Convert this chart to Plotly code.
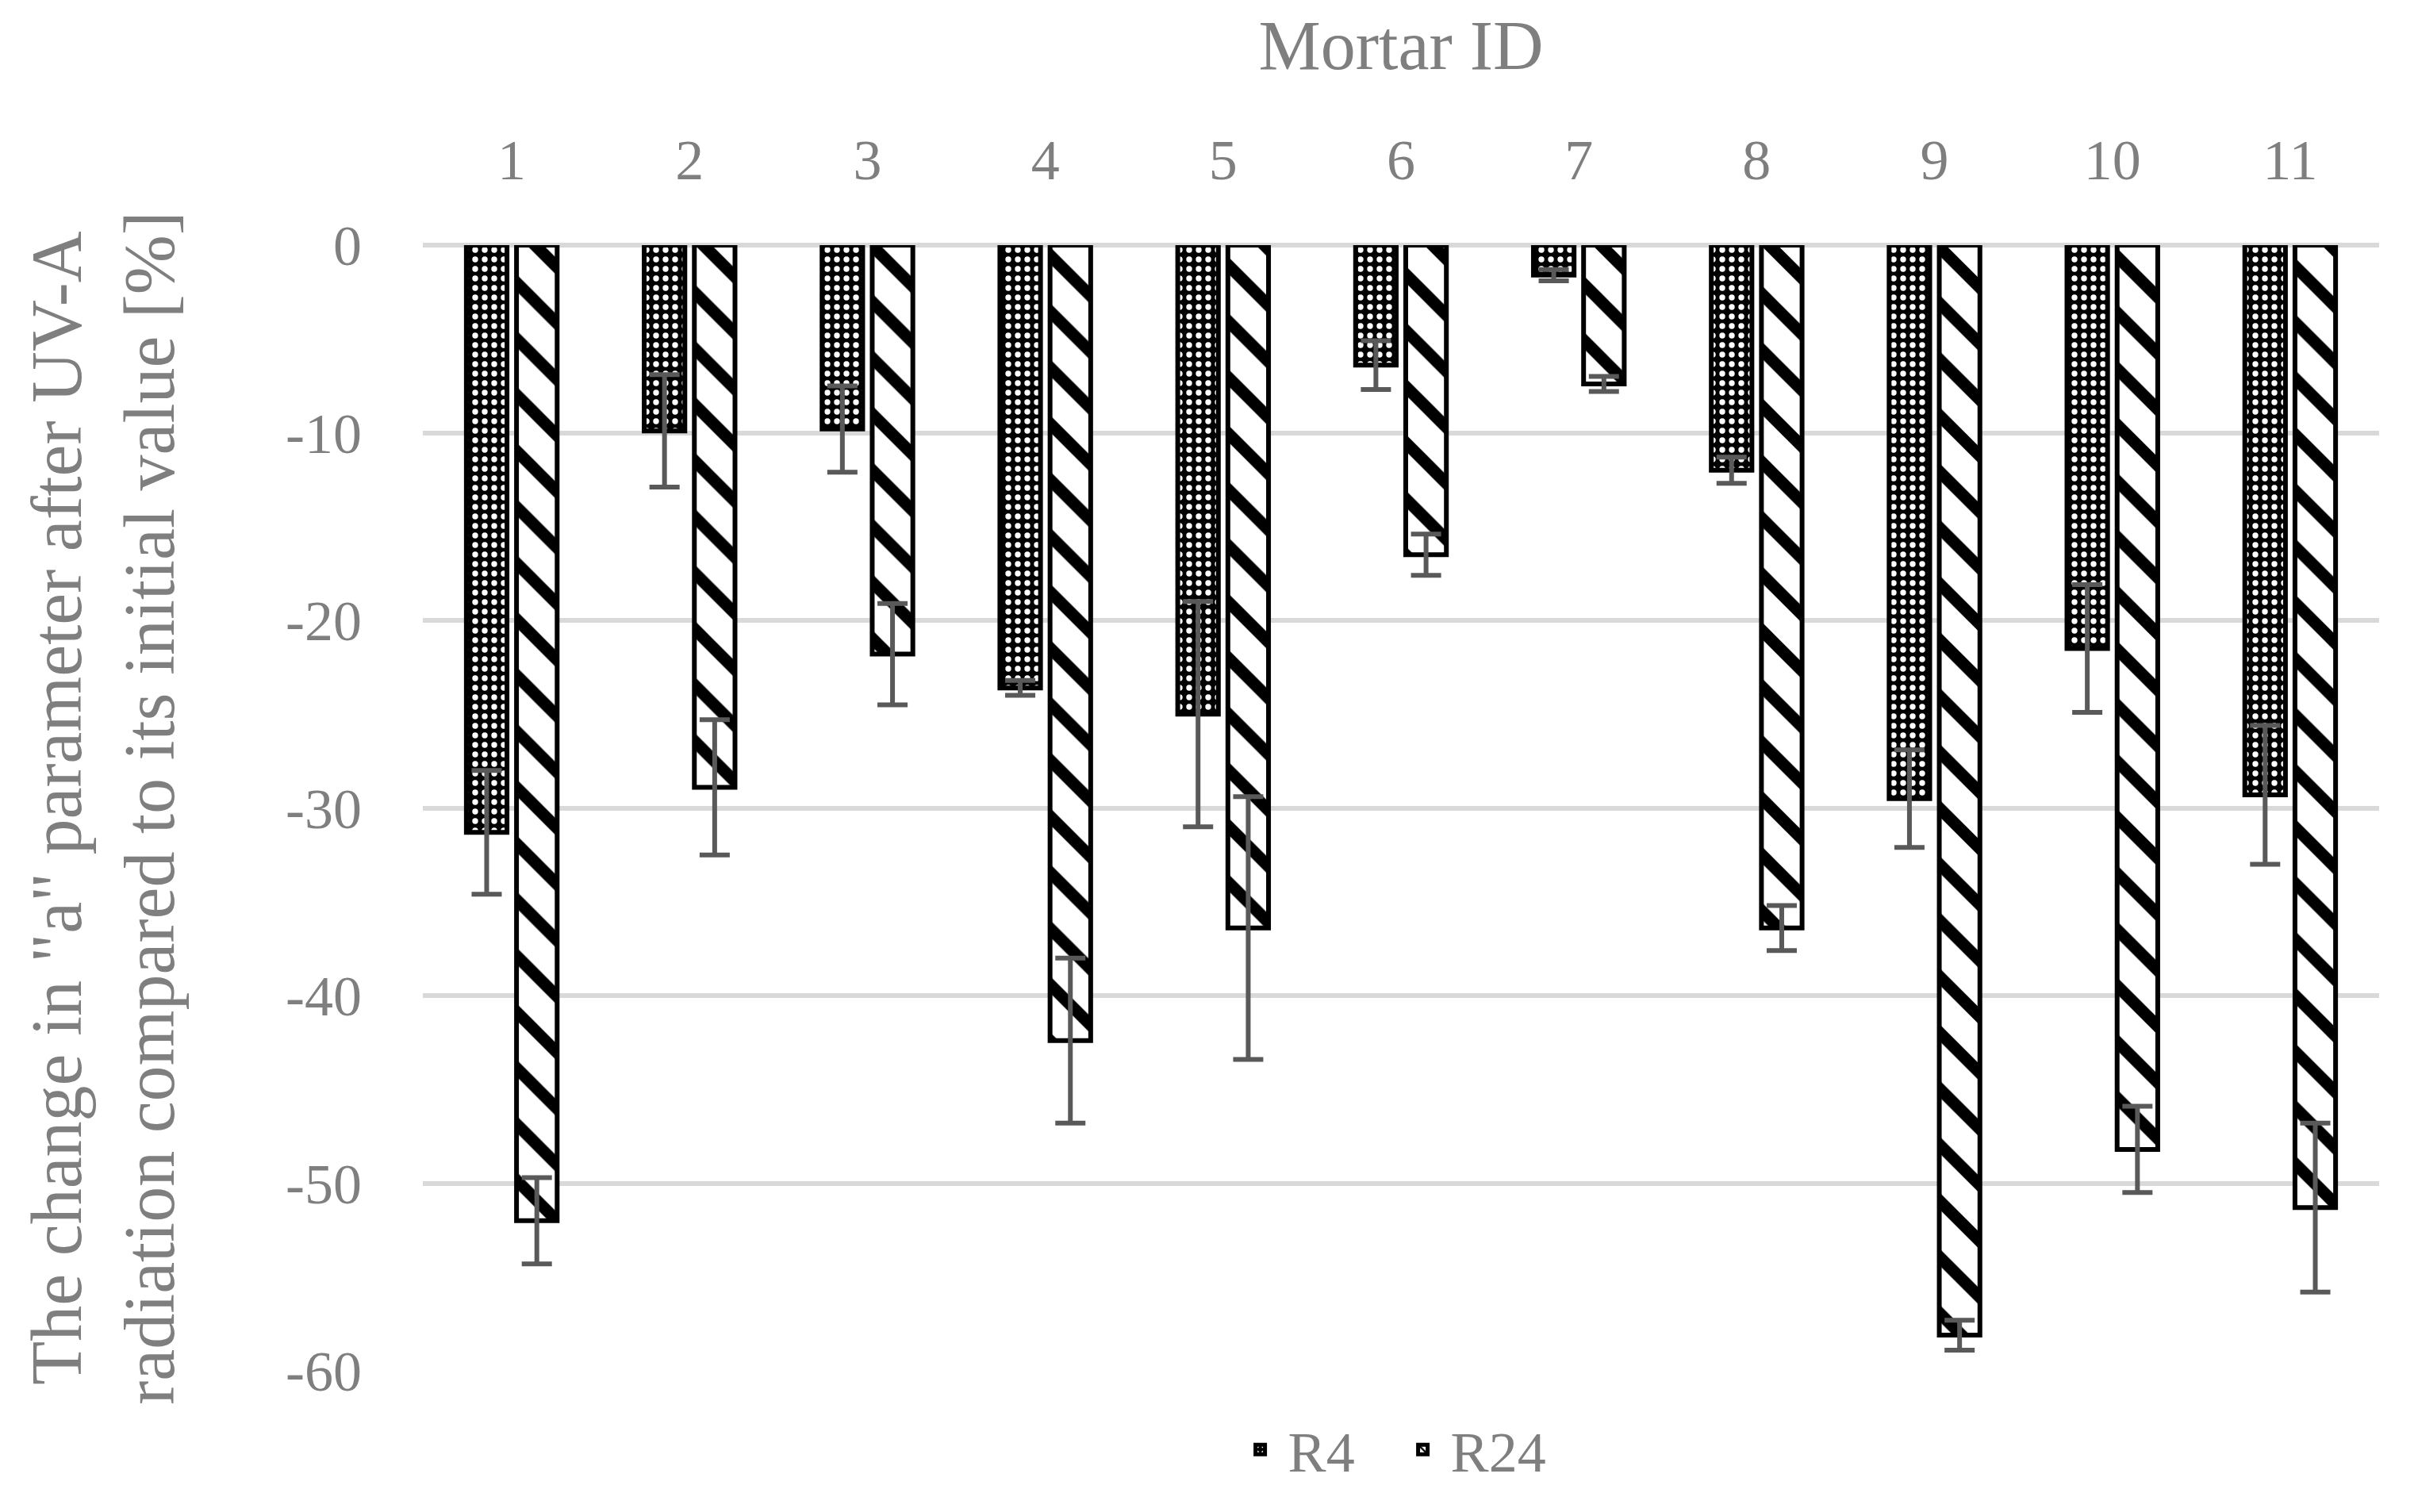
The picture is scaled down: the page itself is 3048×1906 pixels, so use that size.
import plotly.graph_objects as go

categories = ["1", "2", "3", "4", "5", "6", "7", "8", "9", "10", "11"]
r4_values = [-31.3, -9.9, -9.8, -23.6, -25.0, -6.4, -1.6, -12.0, -29.5, -21.5, -29.3]
r4_errors = [3.3, 3.0, 2.3, 0.4, 6.0, 1.3, 0.3, 0.7, 2.6, 3.4, 3.7]
r24_values = [-52.0, -28.9, -21.8, -42.4, -36.4, -16.5, -7.4, -36.4, -58.1, -48.2, -51.3]
r24_errors = [2.3, 3.6, 2.7, 4.4, 7.0, 1.1, 0.4, 1.2, 0.8, 2.3, 4.5]
y_tickvals = [0, -10, -20, -30, -40, -50, -60]
y_ticktext = ["0", "-10", "-20", "-30", "-40", "-50", "-60"]

FONT = "Liberation Serif"
GRAY = "#7f7f7f"

fig = go.Figure()
fig.add_trace(go.Bar(
    name="R4", x=categories, y=r4_values,
    marker=dict(
        color="black",
        line=dict(color="black", width=6),
        pattern=dict(shape=".", fgcolor="white", bgcolor="black", size=12, solidity=0.3, fillmode="replace"),
    ),
    error_y=dict(type="data", array=r4_errors, symmetric=True, color="#595959", thickness=6, width=19),
))
fig.add_trace(go.Bar(
    name="R24", x=categories, y=r24_values,
    marker=dict(
        color="white",
        line=dict(color="black", width=6),
        pattern=dict(shape="\\", fgcolor="black", bgcolor="white", size=50, solidity=0.3, fillmode="replace"),
    ),
    error_y=dict(type="data", array=r24_errors, symmetric=True, color="#595959", thickness=6, width=19),
))

fig.update_layout(
    width=3040, height=1898,
    paper_bgcolor="white", plot_bgcolor="white",
    margin=dict(l=525, r=49, t=301, b=178, autoexpand=False),
    barmode="group", bargap=0.436, bargroupgap=0.19,
    font=dict(family=FONT, color=GRAY, size=72),
    showlegend=True,
    legend=dict(orientation="h", x=0.497, xanchor="center", y=-0.070, yanchor="middle",
                itemwidth=60, entrywidth=130,
                font=dict(size=72, color=GRAY, family=FONT)),
    xaxis=dict(
        side="top", type="category", showgrid=False, showline=False, ticks="",
        tickfont=dict(size=72, color=GRAY, family=FONT),
        ticklabelstandoff=68,
        title=dict(text="Mortar ID", font=dict(size=88, color=GRAY, family=FONT), standoff=44),
        automargin=False,
    ),
    yaxis=dict(
        range=[-60, 0], tickvals=y_tickvals, ticktext=y_ticktext,
        showgrid=True, gridcolor="#d9d9d9", gridwidth=6,
        zeroline=True, zerolinecolor="#d9d9d9", zerolinewidth=6,
        showline=False, ticks="",
        tickfont=dict(size=72, color=GRAY, family=FONT),
        ticklabelstandoff=76,
        title=dict(text="The change in \"a\" parameter after UV-A<br>radiation compared to its initial value [%]",
                   font=dict(size=90, color=GRAY, family=FONT), standoff=110),
        automargin=False,
    ),
)

fig.write_html("out.html")
